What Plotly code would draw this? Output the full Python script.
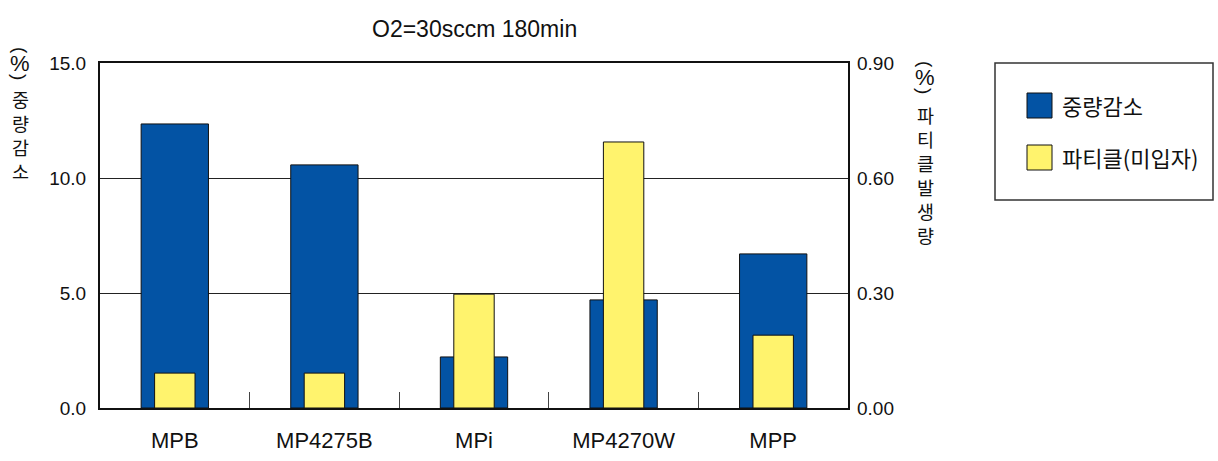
import plotly.graph_objects as go

categories = ["MPB", "MP4275B", "MPi", "MP4270W", "MPP"]
weight_loss = [12.35, 10.57, 2.22, 4.70, 6.70]          # 중량감소 (%), left axis
particles = [0.091, 0.091, 0.297, 0.694, 0.19]           # 파티클 (%), right axis
left_ticks = [0, 5, 10, 15]
left_tick_text = ["0.0", "5.0", "10.0", "15.0"]
right_ticks = [0, 0.3, 0.6, 0.9]
right_tick_text = ["0.00", "0.30", "0.60", "0.90"]
left_title_chars = ["중", "량", "감", "소"]
right_title_chars = ["파", "티", "클", "발", "생", "량"]

BLUE = "#0353A4"
YELLOW = "#FFF36D"
FONT = "Liberation Sans, Arial, Noto Sans CJK KR, sans-serif"
KFONT = "Noto Sans CJK KR, Liberation Sans, sans-serif"

fig = go.Figure()
fig.add_trace(go.Bar(x=categories, y=weight_loss, name="중량감소", yaxis="y",
                     width=0.45, marker=dict(color=BLUE, line=dict(color="#111", width=1))))
fig.add_trace(go.Bar(x=categories, y=particles, name="파티클(미입자)", yaxis="y2",
                     width=0.27, marker=dict(color=YELLOW, line=dict(color="#111", width=1))))

fig.update_layout(
    width=1218, height=461,
    margin=dict(l=100, r=370, t=63, b=53, autoexpand=False),
    plot_bgcolor="white", paper_bgcolor="white",
    showlegend=False, barmode="overlay",
    font=dict(family=FONT, color="#111"),
    xaxis=dict(type="category", showgrid=False, tickson="boundaries", ticks="inside",
               ticklen=16, tickcolor="#444", tickwidth=1, automargin=False,
               showline=True, linecolor="#111", linewidth=2, mirror=True,
               tickfont=dict(size=22, family=FONT), ticklabelstandoff=12),
    yaxis=dict(range=[0, 15], tickvals=left_ticks, ticktext=left_tick_text,
               showgrid=True, gridcolor="#222", gridwidth=1, zeroline=False,
               showline=True, linecolor="#111", linewidth=2, mirror=True, automargin=False,
               ticks="", tickfont=dict(size=19, family=FONT), ticklabelstandoff=8),
    yaxis2=dict(range=[0, 0.9], tickvals=right_ticks, ticktext=right_tick_text,
                overlaying="y", side="right", showgrid=False, zeroline=False, automargin=False,
                showline=False, ticks="", tickfont=dict(size=19, family=FONT),
                ticklabelstandoff=8),
)

def px_x(px):
    return (px - 100) / 748

def px_y(py):
    return (408 - py) / 345

def label(text, x, y, size, family=KFONT, angle=0, xanchor="center"):
    fig.add_annotation(text=text, x=px_x(x), y=px_y(y), xref="paper", yref="paper",
                       showarrow=False, font=dict(size=size, family=family),
                       xanchor=xanchor, yanchor="middle", textangle=angle)

# Title
label("O2=30sccm 180min", 474, 29, 23, family=FONT)

# Vertical axis titles (upright stacked characters, rotated parentheses)
def vertical_title(x, y_open, chars, y_center):
    label("(", x, y_open, 19, family=FONT, angle=90)
    label("%", x, y_open + 13, 22, family=FONT)
    label(")", x, y_open + 27, 19, family=FONT, angle=90)
    label("<br>".join(chars), x, y_center, 18.5)

vertical_title(20, 50, left_title_chars, 135)
vertical_title(925, 64, right_title_chars, 175)

# Custom legend
fig.add_shape(type="rect", xref="paper", yref="paper", x0=px_x(995), x1=px_x(1213),
              y0=px_y(200), y1=px_y(63), line=dict(color="#333", width=1.5), fillcolor="white")
fig.add_shape(type="rect", xref="paper", yref="paper", x0=px_x(1027), x1=px_x(1052),
              y0=px_y(118), y1=px_y(93), line=dict(color="#111", width=1), fillcolor=BLUE)
fig.add_shape(type="rect", xref="paper", yref="paper", x0=px_x(1027), x1=px_x(1052),
              y0=px_y(170), y1=px_y(145), line=dict(color="#111", width=1), fillcolor=YELLOW)
label("중량감소", 1060, 105, 22, xanchor="left")
label("파티클(미입자)", 1060, 157, 22, xanchor="left")

fig.write_html("out.html", config={"displayModeBar": False},
               post_script="document.body.style.margin='0';")
